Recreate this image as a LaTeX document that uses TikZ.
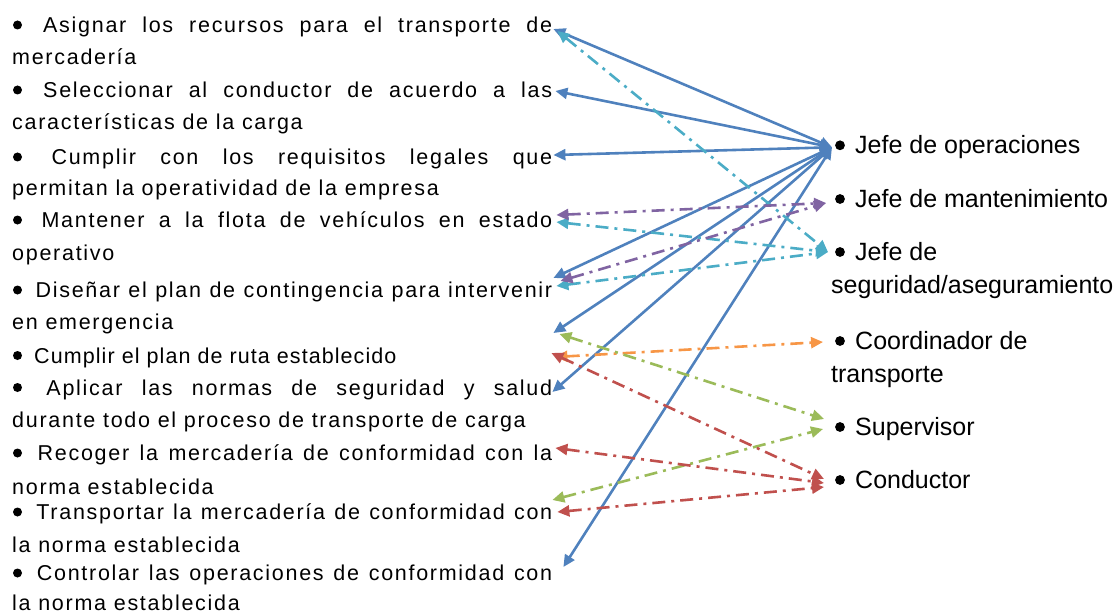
\documentclass[tikz,border=0pt]{standalone}
\usepackage{fontspec}
\setmainfont{Liberation Sans}
\newfontfamily\leftfont[LetterSpace=8]{Liberation Sans}
\newfontfamily\leftfonttight[LetterSpace=5]{Liberation Sans}
\usetikzlibrary{arrows.meta,calc}
\definecolor{cblue}{HTML}{4F81BD}
\definecolor{cpurple}{HTML}{8064A2}
\definecolor{ccyan}{HTML}{4BACC6}
\definecolor{corange}{HTML}{F79646}
\definecolor{cgreen}{HTML}{9BBB59}
\definecolor{cred}{HTML}{C0504D}
\tikzset{
  txt/.style={anchor=base west,inner sep=0pt,font=\leftfont\fontsize{21.5}{24}\selectfont},
  txttight/.style={txt,font=\leftfonttight\fontsize{21.5}{24}\selectfont},
  role/.style={anchor=base west,inner sep=0pt,font=\fontsize{25}{30}\selectfont},
  bul/.style={fill=black},
  link/.style={line width=2.6pt,{Triangle[length=12pt,width=11pt]}-{Triangle[length=12pt,width=11pt]}},
  dd/.style={link,dash pattern=on 13pt off 6pt on 3pt off 6pt},
}
\begin{document}
\begin{tikzpicture}[x=1pt,y=-1pt]
\useasboundingbox (0,0) rectangle (1119,615);
% left column
\node[txt] (i1) at (12,32.5) {\makebox[540pt][s]{\hspace*{15pt} Asignar los recursos para el transporte de}};
\node[txt] (l2) at (12,64.5) {mercadería};
\node[txt] (i2) at (12,97.5) {\makebox[540pt][s]{\hspace*{15pt} Seleccionar al conductor de acuerdo a las}};
\node[txt] (l4) at (12,129.5) {características de la carga};
\node[txt] (i3) at (12,164.5) {\makebox[540pt][s]{\hspace*{15pt} Cumplir con los requisitos legales que}};
\node[txt] (l6) at (12,195.5) {permitan la operatividad de la empresa};
\node[txt] (i4) at (12,227.5) {\makebox[540pt][s]{\hspace*{15pt} Mantener a la flota de vehículos en estado}};
\node[txt] (l8) at (12,260.5) {operativo};
\node[txt] (i5) at (12,297.5) {\makebox[540pt][s]{\hspace*{15pt} Diseñar el plan de contingencia para intervenir}};
\node[txt] (l10) at (12,329.5) {en emergencia};
\node[txttight] (i6) at (12,363) {\makebox[540pt][l]{\hspace*{15pt} Cumplir el plan de ruta establecido}};
\node[txt] (i7) at (12,395) {\makebox[540pt][s]{\hspace*{15pt} Aplicar las normas de seguridad y salud}};
\node[txt] (l13) at (12,427.5) {durante todo el proceso de transporte de carga};
\node[txt] (i8) at (12,460.5) {\makebox[540pt][s]{\hspace*{15pt} Recoger la mercadería de conformidad con la}};
\node[txt] (l15) at (12,494) {norma establecida};
\node[txt] (i9) at (12,519.5) {\makebox[540pt][s]{\hspace*{15pt} Transportar la mercadería de conformidad con}};
\node[txt] (l17) at (12,552.5) {la norma establecida};
\node[txt] (i10) at (12,580.5) {\makebox[540pt][s]{\hspace*{15pt} Controlar las operaciones de conformidad con}};
\node[txt] (l19) at (12,610.5) {la norma establecida};
\foreach \n in {i1,i2,i3,i4,i5,i6,i7,i8,i9,i10}
  \fill[bul] ($(\n.base west)+(5.5,-7.5)$) circle (4.5pt);
% right column
\node[role] (jo) at (831,153.3) {\hspace*{24pt}Jefe de operaciones};
\node[role] (jm) at (831,207) {\hspace*{24pt}Jefe de mantenimiento};
\node[role] (js) at (831,260) {\hspace*{24pt}Jefe de};
\node[role] (js2) at (831,293) {seguridad/aseguramiento};
\node[role] (ct) at (831,349) {\hspace*{24pt}Coordinador de};
\node[role] (ct2) at (831,382) {transporte};
\node[role] (sv) at (831,435) {\hspace*{24pt}Supervisor};
\node[role] (cd) at (831,488) {\hspace*{24pt}Conductor};
\foreach \n in {jo,jm,js,ct,sv,cd}
  \fill[bul] ($(\n.base west)+(9,-8)$) circle (4.9pt);
% connector ends on the right
\coordinate (tJO) at ($(jo.base west)+(1,-6)$);
\coordinate (tJM) at ($(jm.base west)+(-5,-4)$);
\coordinate (tJS) at ($(js.base west)+(-3,-8)$);
\coordinate (tCT) at ($(ct.base west)+(-8,-7)$);
\coordinate (tSV1) at ($(sv.base west)+(-7,-16)$);
\coordinate (tSV2) at ($(sv.base west)+(-8,-6)$);
\coordinate (tCD1) at ($(cd.base west)+(-7,-9)$);
\coordinate (tCD2) at ($(cd.base west)+(-7,-5)$);
\coordinate (tCD3) at ($(cd.base west)+(-7,-1)$);
% blue
\draw[link,cblue] ($(i1.base east)+(1,-3.5)$) -- (tJO);
\draw[link,cblue] ($(i2.base east)+(3,-6.5)$) -- (tJO);
\draw[link,cblue] ($(i3.base east)+(1,-9.5)$) -- (tJO);
\draw[link,cblue] ($(i5.base east)+(1,-19.5)$) -- (tJO);
\draw[link,cblue] ($(i6.base east)+(1,-30)$) -- (tJO);
\draw[link,cblue] ($(i7.base east)+(0,-3)$) -- (tJO);
\draw[link,cblue] ($(i10.base east)+(11,-13.5)$) -- (tJO);
% cyan
\draw[dd,ccyan] ($(i1.base east)+(5,-1.5)$) -- (tJS);
\draw[dd,ccyan] ($(i4.base east)+(4,-5.5)$) -- (tJS);
\draw[dd,ccyan] ($(i5.base east)+(4,-11.5)$) -- (tJS);
% purple
\draw[dd,cpurple] ($(i4.base east)+(4,-12.5)$) -- (tJM);
\draw[dd,cpurple] ($(i5.base east)+(8,-16.5)$) -- (tJM);
% orange
\draw[dd,corange] ($(i6.base east)+(3,-6)$) -- (tCT);
% green
\draw[dd,cgreen] ($(i6.base east)+(7,-29)$) -- (tSV1);
\draw[dd,cgreen] ($(i9.base east)+(0,-19.5)$) -- (tSV2);
% red
\draw[dd,cred] ($(i6.base east)+(-1,-10)$) -- (tCD1);
\draw[dd,cred] ($(i8.base east)+(3,-12.5)$) -- (tCD2);
\draw[dd,cred] ($(i9.base east)+(5,-7.5)$) -- (tCD3);
\end{tikzpicture}
\end{document}
